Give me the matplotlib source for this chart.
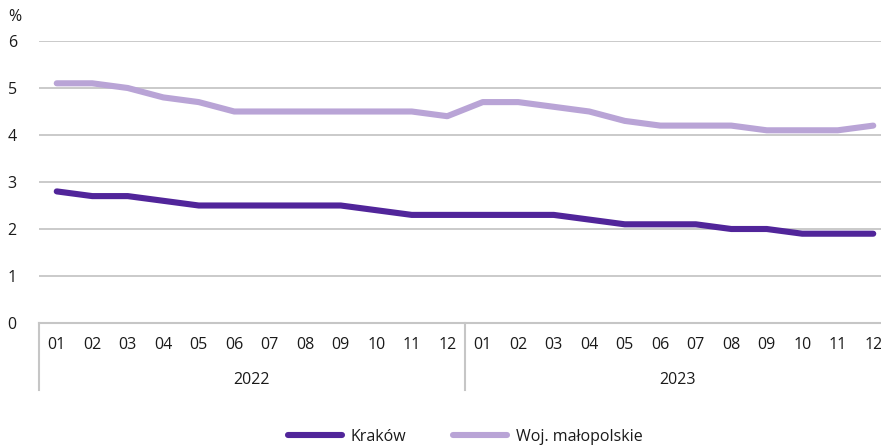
import matplotlib
matplotlib.use("Agg")
import matplotlib.pyplot as plt
import matplotlib.transforms as mtransforms

plt.rcParams['font.family'] = ['Open Sans', 'DejaVu Sans']

months = ["01", "02", "03", "04", "05", "06", "07", "08", "09", "10", "11", "12"] * 2
years = ["2022", "2023"]
krakow = [2.8, 2.7, 2.7, 2.6, 2.5, 2.5, 2.5, 2.5, 2.5, 2.4, 2.3, 2.3,
          2.3, 2.3, 2.3, 2.2, 2.1, 2.1, 2.1, 2.0, 2.0, 1.9, 1.9, 1.9]
woj = [5.1, 5.1, 5.0, 4.8, 4.7, 4.5, 4.5, 4.5, 4.5, 4.5, 4.5, 4.4,
       4.7, 4.7, 4.6, 4.5, 4.3, 4.2, 4.2, 4.2, 4.1, 4.1, 4.1, 4.2]
series_names = ["Kraków", "Woj. małopolskie"]
yticks = [0, 1, 2, 3, 4, 5, 6]

c_dark = "#51259A"
c_light = "#B9A4D6"
grid_c = "#C6C6C6"
txt_c = "#1a1a1a"

W, H = 881, 446
fig = plt.figure(figsize=(W / 100, H / 100), dpi=100)
left, right, bottom, top = 39, 891, 323, 41
ax = fig.add_axes([left / W, 1 - bottom / H, (right - left) / W, (bottom - top) / H])

x = list(range(len(months)))
ax.set_xlim(-0.5, len(months) - 0.5)
ax.set_ylim(0, 6)

for v in yticks[1:]:
    ax.axhline(v, color=grid_c, lw=1.3, zorder=1)
ax.axhline(0, color=grid_c, lw=1.5, zorder=1, clip_on=False)

l1, = ax.plot(x, krakow, color=c_dark, lw=4.4, solid_capstyle='round', solid_joinstyle='round', zorder=3)
l2, = ax.plot(x, woj, color=c_light, lw=4.4, solid_capstyle='round', solid_joinstyle='round', zorder=2)

for s in ax.spines.values():
    s.set_visible(False)

ax.set_yticks(yticks)
ax.set_yticklabels([str(v) for v in yticks], fontsize=11.5, color=txt_c)
ax.tick_params(axis='y', length=0, pad=16)
ax.set_xticks(x)
ax.set_xticklabels(months, fontsize=11.5, color=txt_c)
ax.tick_params(axis='x', length=0, pad=10)

trans = mtransforms.blended_transform_factory(ax.transData, ax.transAxes)
sep_bottom = -(390 - 323) / (bottom - top)
for xs in [-0.5, 11.5, 23.5]:
    ax.plot([xs, xs], [0, sep_bottom], color=grid_c, lw=1.5, transform=trans, clip_on=False)

year_y = -(380 - 323) / (bottom - top)
for i, yr in enumerate(years):
    ax.text(i * 12 + 5.5, year_y, yr, transform=trans, ha='center', va='center',
            fontsize=11.5, color=txt_c)

fig.text(15 / W, 1 - 17 / H, "%", ha='center', va='center', fontsize=11.5, color=txt_c)

leg = fig.legend([l1, l2], series_names, loc='center', bbox_to_anchor=(465 / W, 1 - 437 / H),
                 ncol=2, frameon=False, fontsize=11.5, handlelength=3.4, columnspacing=2.9,
                 handletextpad=0.55)
for t in leg.get_texts():
    t.set_color(txt_c)

fig.savefig("out.png", dpi=100)
